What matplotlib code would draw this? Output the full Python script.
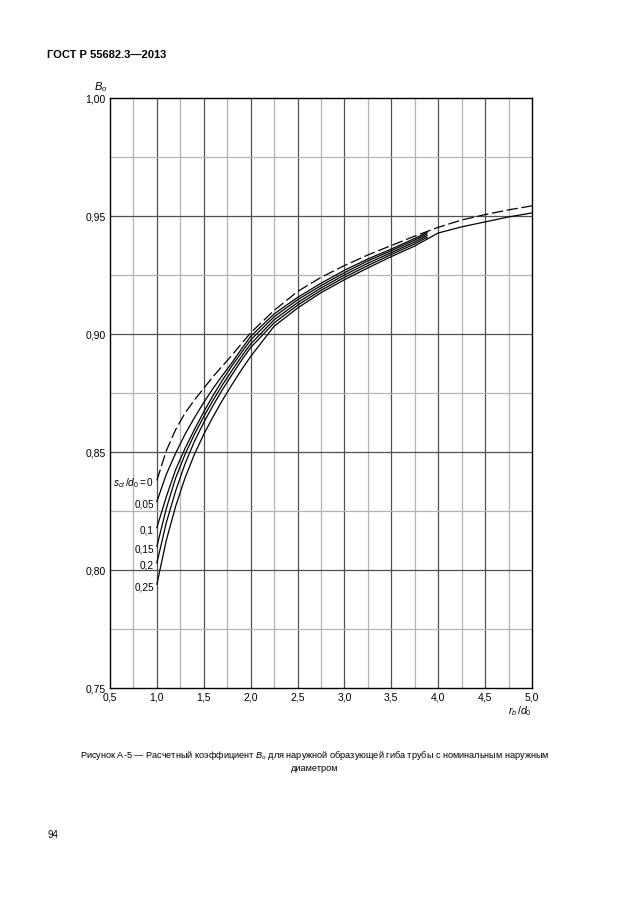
import matplotlib
matplotlib.use("Agg")
import matplotlib.pyplot as plt
import numpy as np

plt.rcParams["font.family"] = ["Liberation Sans", "DejaVu Sans"]
plt.rcParams["mathtext.fontset"] = "custom"
plt.rcParams["mathtext.rm"] = "Liberation Sans"
plt.rcParams["mathtext.it"] = "Liberation Sans:italic"

# r_b/d_0 sample points
X_MAIN = [1.0, 1.1, 1.2, 1.3, 1.4, 1.5, 1.6, 1.7, 1.8, 1.9, 2.0,
          2.25, 2.5, 2.75, 3.0, 3.25, 3.5, 3.75, 3.88]
X_TAIL = [4.0, 4.25, 4.5, 4.75, 5.0]

# s_ct/d_0 = 0 (dashed), goes up to 5.0
X_DASH = [1.0, 1.1, 1.2, 1.3, 1.4, 1.5, 1.6, 1.7, 1.8, 1.9, 2.0,
          2.25, 2.5, 2.75, 3.0, 3.25, 3.5, 3.75, 4.0, 4.25, 4.5, 4.75, 5.0]
B_DASH = [0.838, 0.8505, 0.8595, 0.8665, 0.8720, 0.8770, 0.8820, 0.8865, 0.8910, 0.8958, 0.9005,
          0.9100, 0.9180, 0.9240, 0.9290, 0.9335, 0.9375, 0.9415, 0.9452, 0.9483, 0.9506, 0.9526, 0.9543]

S_LABELS = ["0,05", "0,1", "0,15", "0,2", "0,25"]
B_005 = [0.829, 0.8405, 0.8495, 0.8575, 0.8645, 0.8710, 0.8770, 0.8825, 0.8878, 0.8935, 0.8990,
         0.9085, 0.9155, 0.9215, 0.9270, 0.9318, 0.9360, 0.9405, 0.9430]
B_010 = [0.818, 0.8310, 0.8425, 0.8515, 0.8595, 0.8670, 0.8740, 0.8805, 0.8865, 0.8920, 0.8975,
         0.9073, 0.9145, 0.9205, 0.9260, 0.9310, 0.9353, 0.9398, 0.9424]
B_015 = [0.810, 0.8260, 0.8390, 0.8490, 0.8575, 0.8650, 0.8720, 0.8785, 0.8845, 0.8903, 0.8958,
         0.9060, 0.9133, 0.9195, 0.9250, 0.9300, 0.9345, 0.9390, 0.9417]
B_020 = [0.803, 0.8200, 0.8335, 0.8450, 0.8545, 0.8625, 0.8698, 0.8765, 0.8827, 0.8887, 0.8943,
         0.9047, 0.9122, 0.9185, 0.9240, 0.9290, 0.9337, 0.9382, 0.9410]
B_025 = [0.794, 0.8125, 0.8270, 0.8390, 0.8490, 0.8575, 0.8650, 0.8720, 0.8785, 0.8847, 0.8905,
         0.9033, 0.9110, 0.9175, 0.9230, 0.9280, 0.9328, 0.9373, 0.9402]
B_025_TAIL = [0.9428, 0.9454, 0.9475, 0.9496, 0.9513]

X_TICKS = [0.5, 1.0, 1.5, 2.0, 2.5, 3.0, 3.5, 4.0, 4.5, 5.0]
Y_TICKS = [0.75, 0.80, 0.85, 0.90, 0.95, 1.00]


def comma(v, nd):
    return f"{v:.{nd}f}".replace(".", ",")


fig = plt.figure(figsize=(6.3, 9.13), dpi=100)
ax = fig.add_axes([110 / 630, 1 - 688 / 913, 422 / 630, 590 / 913])
ax.set_xlim(0.5, 5.0)
ax.set_ylim(0.75, 1.00)

# grid: minor lighter, major darker
for xv in np.arange(0.75, 5.0, 0.25):
    major = abs(xv * 2 - round(xv * 2)) < 1e-6
    ax.axvline(xv, color="#505050" if major else "#b4b4b4", lw=0.9, zorder=1)
for yv in np.arange(0.775, 1.0, 0.025):
    major = abs(yv * 20 - round(yv * 20)) < 1e-6
    ax.axhline(yv, color="#505050" if major else "#b4b4b4", lw=0.9, zorder=1)

for s in ax.spines.values():
    s.set_color("black")
    s.set_linewidth(1.0)

ax.plot(X_DASH, B_DASH, color="black", lw=0.9, ls=(0, (9, 3)), zorder=3)
curves = [B_005, B_010, B_015, B_020, B_025]
for b in curves:
    ax.plot(X_MAIN, b, color="black", lw=0.9, zorder=3)
ax.plot([X_MAIN[-1]] + X_TAIL, [B_025[-1]] + B_025_TAIL, color="black", lw=0.9, zorder=3)

# curve labels
ax.annotate(r"$s_{ct}\,/d_0 = 0$", (1.0, B_DASH[0]), xytext=(-3, -3),
            textcoords="offset pixels", ha="right", va="center", fontsize=7.2)
for lab, b in zip(S_LABELS, curves):
    ax.annotate(lab, (1.0, b[0]), xytext=(-3, -3), textcoords="offset pixels",
                ha="right", va="center", fontsize=7.2)

ax.set_xticks(X_TICKS)
ax.set_xticklabels([comma(v, 1) for v in X_TICKS])
ax.set_yticks(Y_TICKS)
ax.set_yticklabels([comma(v, 2) for v in Y_TICKS])
ax.tick_params(length=0, labelsize=7.5, pad=3)

fig.text(101 / 630, 1 - 87 / 913, r"$B_o$", ha="center", va="center", fontsize=8)
ax.text(5.0, 0.743, r"$r_b\,/d_0$", ha="right", va="top", fontsize=7.5)

fig.text(47 / 630, 1 - 55 / 913, "ГОСТ Р 55682.3—2013", fontsize=8, fontweight="bold",
         ha="left", va="center")
fig.text(315 / 630, 1 - 755 / 913,
         "Рисунок А-5 — Расчетный коэффициент $B_o$ для наружной образующей гиба трубы с номинальным наружным",
         fontsize=6.6, ha="center", va="center")
fig.text(315 / 630, 1 - 768 / 913, "диаметром", fontsize=6.6, ha="center", va="center")
fig.text(47 / 630, 1 - 835 / 913, "94", fontsize=7, ha="left", va="center")

fig.savefig("out.png", dpi=100)
